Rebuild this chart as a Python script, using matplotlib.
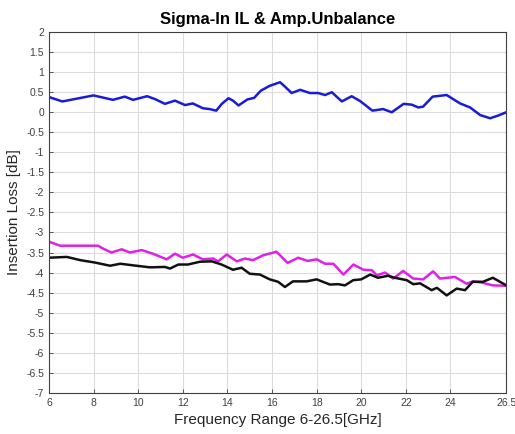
import numpy as np
import matplotlib
matplotlib.use("Agg")
import matplotlib.pyplot as plt

plt.rcParams['font.family'] = ['Liberation Sans', 'DejaVu Sans']

# Sigma-In IL (blue)
blue_f = [6.0, 6.6, 8.0, 8.87, 9.4, 9.77, 10.4, 10.75, 11.2, 11.65, 12.1, 12.45, 12.9, 13.2,
          13.5, 13.75, 14.05, 14.25, 14.5, 14.9, 15.2, 15.5, 15.9, 16.36, 16.58, 16.88, 17.26,
          17.7, 18.07, 18.38, 18.68, 19.13, 19.57, 19.95, 20.5, 20.98, 21.37, 21.9, 22.26,
          22.56, 22.77, 23.2, 23.83, 24.43, 24.88, 25.33, 25.78, 26.15, 26.5]
blue_v = [0.38, 0.27, 0.42, 0.31, 0.39, 0.31, 0.40, 0.33, 0.21, 0.29, 0.18, 0.22, 0.10, 0.08,
          0.04, 0.21, 0.35, 0.29, 0.17, 0.32, 0.36, 0.54, 0.66, 0.75, 0.64, 0.48, 0.56,
          0.48, 0.48, 0.43, 0.50, 0.27, 0.40, 0.28, 0.04, 0.08, 0.0, 0.21, 0.19,
          0.12, 0.14, 0.39, 0.43, 0.22, 0.12, -0.07, -0.15, -0.08, 0.0]

# magenta trace
mag_f = [6.0, 6.5, 7.24, 8.2, 8.42, 8.8, 9.26, 9.63, 10.16, 10.66, 11.28, 11.65, 12.0, 12.46,
         12.9, 13.36, 13.58, 13.97, 14.42, 14.79, 15.15, 15.6, 16.2, 16.7, 17.17, 17.6, 18.0,
         18.38, 18.75, 19.2, 19.65, 20.1, 20.47, 20.7, 21.07, 21.43, 21.88, 22.33, 22.78,
         23.22, 23.53, 24.2, 24.73, 25.0, 25.4, 25.9, 26.5]
mag_v = [-3.23, -3.33, -3.33, -3.33, -3.40, -3.50, -3.42, -3.50, -3.44, -3.53, -3.67, -3.53,
         -3.63, -3.55, -3.67, -3.65, -3.72, -3.55, -3.72, -3.65, -3.69, -3.57, -3.48, -3.76,
         -3.63, -3.71, -3.67, -3.78, -3.78, -4.05, -3.80, -3.93, -3.94, -4.07, -4.00, -4.15,
         -3.96, -4.15, -4.17, -3.97, -4.15, -4.11, -4.28, -4.22, -4.25, -4.32, -4.33]

# black trace
blk_f = [6.0, 6.8, 7.4, 8.06, 8.74, 9.2, 9.77, 10.53, 11.2, 11.43, 11.8, 12.23, 12.77, 13.3,
         13.74, 14.25, 14.64, 15.0, 15.46, 15.9, 16.27, 16.58, 16.94, 17.55, 18.0, 18.6,
         18.96, 19.27, 19.64, 20.0, 20.4, 20.75, 21.2, 21.5, 22.04, 22.33, 22.64, 23.16,
         23.39, 23.83, 24.28, 24.65, 25.0, 25.46, 25.9, 26.5]
blk_v = [-3.63, -3.61, -3.69, -3.75, -3.83, -3.78, -3.82, -3.87, -3.86, -3.90, -3.80, -3.80,
         -3.73, -3.72, -3.80, -3.93, -3.88, -4.03, -4.05, -4.17, -4.23, -4.36, -4.22, -4.22,
         -4.17, -4.30, -4.29, -4.32, -4.19, -4.17, -4.05, -4.13, -4.08, -4.13, -4.19, -4.29,
         -4.27, -4.44, -4.38, -4.57, -4.40, -4.44, -4.23, -4.23, -4.13, -4.32]

xticks = [6, 8, 10, 12, 14, 16, 18, 20, 22, 24, 26.5]
xtick_labels = ['6', '8', '10', '12', '14', '16', '18', '20', '22', '24', '26.5']
yticks = np.arange(-7, 2.01, 0.5)

fig = plt.figure(figsize=(5.15, 4.34), dpi=100)
ax = fig.add_axes([0.095, 0.095, 0.888, 0.831])

ax.plot(blue_f, blue_v, color='#1a1adb', lw=1.8)
ax.plot(mag_f, mag_v, color='#e020e8', lw=1.8)
ax.plot(blk_f, blk_v, color='#111111', lw=1.8)

ax.set_xlim(6, 26.5)
ax.set_ylim(-7, 2)
ax.set_xticks(xticks)
ax.set_xticklabels(xtick_labels)
ax.set_yticks(yticks)
ax.set_yticklabels(['%g' % v for v in yticks])
ax.grid(True, color='#dcdcdc', lw=0.8)
ax.set_axisbelow(True)
ax.tick_params(direction='in', length=3, labelsize=7.5, colors='#404040', width=0.6)
for s in ax.spines.values():
    s.set_color('#404040')
    s.set_linewidth(0.8)

ax.set_title('Sigma-In IL & Amp.Unbalance', fontsize=12, fontweight='bold', pad=6)
ax.set_xlabel('Frequency Range 6-26.5[GHz]', fontsize=11, color='#262626', labelpad=4)
ax.set_ylabel('Insertion Loss [dB]', fontsize=11, color='#262626', labelpad=4)

fig.savefig('out.png', dpi=100)
